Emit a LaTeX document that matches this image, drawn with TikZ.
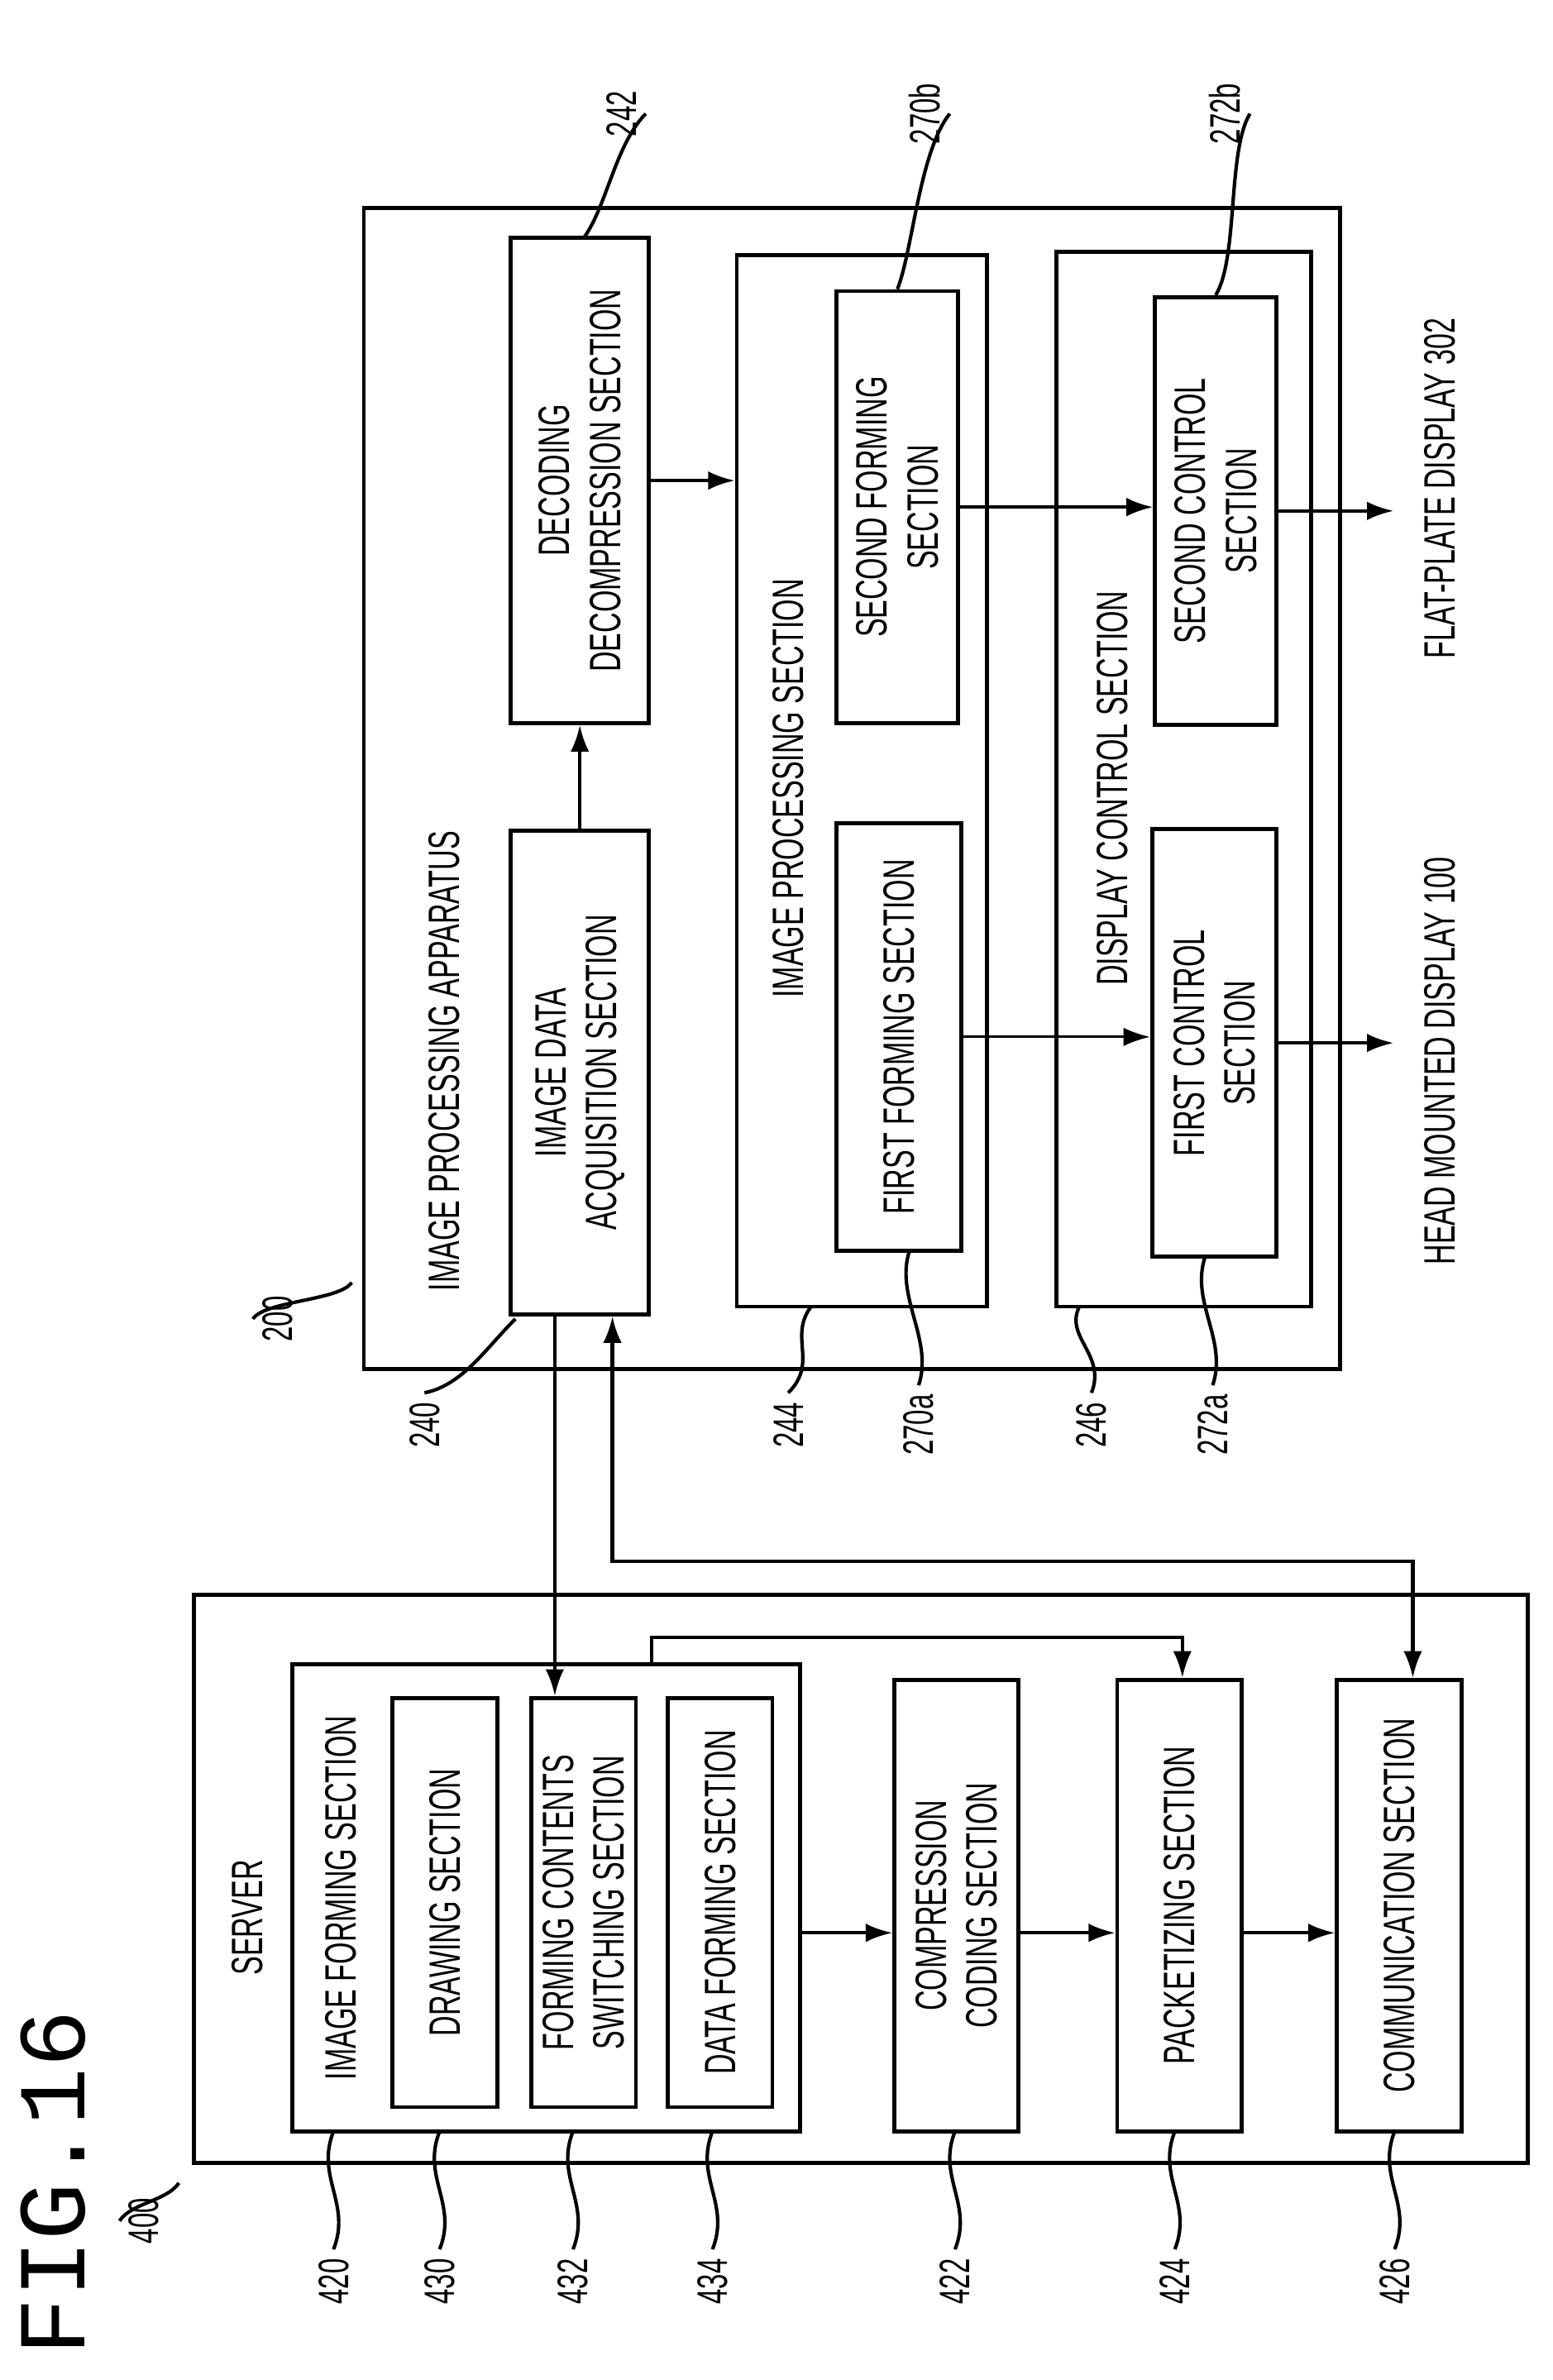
\documentclass[tikz,border=0pt]{standalone}
\usepackage{fontspec}
\setmainfont{Liberation Sans}[FakeStretch=0.64]
\newfontfamily\figfont{Liberation Mono}
\usetikzlibrary{arrows.meta,calc}

\tikzset{
  box/.style={draw, line width=1.5pt, rotate=90, align=center, inner sep=1pt, font=\fontsize{16.5}{19}\selectfont},
  txt/.style={rotate=90, align=center, font=\fontsize{16.5}{19}\selectfont},
  num/.style={rotate=90, font=\fontsize{16}{18}\selectfont},
  arr/.style={line width=1.3pt, -{Latex[length=10pt,width=7pt]}},
  lead/.style={line width=1.3pt}
}

\begin{document}
\begin{tikzpicture}[x=0.02cm, y=-0.02cm]
  \useasboundingbox (0,0) rectangle (1024,1570);
  % title
  \node[rotate=90, font=\figfont\fontsize{36}{40}\selectfont] (fig) at (35,1440) {FIG.16};

  % image processing apparatus
  \node[box, minimum width=15.32cm, minimum height=12.88cm] (ipa) at (562,520) {};
  \node[txt] (ipat) at (293,700) {IMAGE PROCESSING APPARATUS};
  \node[box, minimum width=6.4cm, minimum height=1.82cm] (dec) at (382.5,317) {DECODING\\DECOMPRESSION SECTION};
  \node[box, minimum width=6.38cm, minimum height=1.82cm] (acq) at (382.5,707.5) {IMAGE DATA\\ACQUISITION SECTION};
  \node[box, minimum width=13.88cm, minimum height=3.3cm] (ips) at (568.5,515) {};
  \node[txt] (ipst) at (520,520) {IMAGE PROCESSING SECTION};
  \node[box, minimum width=5.7cm, minimum height=1.6cm] (sf) at (592,334.5) {SECOND FORMING\\SECTION};
  \node[box, minimum width=5.64cm, minimum height=1.64cm] (ff) at (593,684) {FIRST FORMING SECTION};
  \node[box, minimum width=13.92cm, minimum height=3.36cm] (dcs) at (781,514) {};
  \node[txt] (dcst) at (734,520) {DISPLAY CONTROL SECTION};
  \node[box, minimum width=5.64cm, minimum height=1.6cm] (sc) at (802,337) {SECOND CONTROL\\SECTION};
  \node[box, minimum width=5.64cm, minimum height=1.64cm] (fc) at (801,688) {FIRST CONTROL\\SECTION};
  \node[txt, anchor=center] (fpd) at (950,322) {FLAT-PLATE DISPLAY 302};
  \node[txt, anchor=center] (hmd) at (950,700) {HEAD MOUNTED DISPLAY 100};

  % server
  \node[box, minimum width=7.5cm, minimum height=17.6cm] (srv) at (568,1239.5) {};
  \node[txt] (srvt) at (163,1265) {SERVER};
  \node[box, minimum width=6.16cm, minimum height=6.7cm] (ifs) at (360.5,1252) {};
  \node[txt] (ifst) at (225,1252) {IMAGE FORMING SECTION};
  \node[box, minimum width=5.4cm, minimum height=1.38cm] (drw) at (293.5,1255) {DRAWING SECTION};
  \node[box, minimum width=5.4cm, minimum height=1.38cm] (fcs) at (385,1255) {FORMING CONTENTS\\SWITCHING SECTION};
  \node[box, minimum width=5.4cm, minimum height=1.38cm] (dfs) at (475,1255) {DATA FORMING SECTION};
  \node[box, minimum width=5.96cm, minimum height=1.64cm] (cmp) at (631,1257) {COMPRESSION\\CODING SECTION};
  \node[box, minimum width=5.96cm, minimum height=1.64cm] (pkt) at (778,1257) {PACKETIZING SECTION};
  \node[box, minimum width=5.96cm, minimum height=1.64cm] (com) at (923,1257) {COMMUNICATION SECTION};

  % flows
  \draw[arr] (acq.east) -- (dec.west);
  \draw[arr] (dec.south) -- (dec.south -| ips.north);
  \draw[arr] (sf.south) -- (sf.south -| sc.north);
  \draw[arr, line width=1pt] (ff.south) -- (ff.south -| fc.north);
  \draw[arr] (sc.south) -- ++(76,0) coordinate (fpdin);
  \draw[arr] (fc.south) -- ++(76,0) coordinate (hmdin);
  \draw[arr] (acq.west -| 366,0) -- (fcs.east -| 366,0);
  \draw[arr, {Latex[length=10pt,width=7pt]}-{Latex[length=10pt,width=7pt]}] (acq.west -| 404,0) -- (404,1030) -| (com.east -| 932,0);
  \draw[arr] (ifs.east -| 430,0) -- (430,1080) -| (pkt.east -| 780,0);
  \draw[arr] (ifs.south |- 0,1275) -- (cmp.north |- 0,1275);
  \draw[arr] (cmp.south |- 0,1275) -- (pkt.north |- 0,1275);
  \draw[arr] (pkt.south |- 0,1275) -- (com.north |- 0,1275);

  % reference numerals
  \node[num] (n242) at (410,75) {242};
  \node[num] (n270b) at (610,75) {270b};
  \node[num] (n272b) at (808,75) {272b};
  \draw[lead] (n242.south) .. controls +(-20,20) and +(15,-20) .. (385,157);
  \draw[lead] (n270b.south) .. controls +(-20,25) and +(10,-25) .. (sf.east);
  \draw[lead] (n272b.south) .. controls +(-15,25) and +(15,-25) .. (sc.east);
  \node[num] (n200) at (183,870) {200};
  \draw[lead] (n200.north) .. controls +(8,-12) and +(-8,12) .. (232,846);
  \foreach \nm/\x in {240/280, 244/520, 270a/606, 246/720, 272a/800} {
    \node[num] (n\nm) at (\x,940) {\nm};
  }
  \draw[lead] (n240.east) .. controls +(25,-5) and +(-20,20) .. (340,870);
  \draw[lead] (n244.east) .. controls +(20,-20) and +(-15,20) .. (535,862);
  \draw[lead] (n270a.east) .. controls +(10,-30) and +(-10,30) .. (600,825);
  \draw[lead] (n246.east) .. controls +(10,-25) and +(-10,20) .. (712,862);
  \draw[lead] (n272a.east) .. controls +(10,-30) and +(-10,30) .. (795,829);
  \node[num] (n400) at (95,1465) {400};
  \draw[lead] (n400.north) .. controls +(8,-12) and +(-8,12) .. (118,1440);
  \foreach \nm/\x in {420/220, 430/290, 432/378, 434/470, 422/630, 424/775, 426/920} {
    \node[num] (n\nm) at (\x,1505) {\nm};
    \draw[lead] (n\nm.east) .. controls +(12,-30) and +(-12,30) .. (\x,1406);
  }
\end{tikzpicture}
\end{document}
